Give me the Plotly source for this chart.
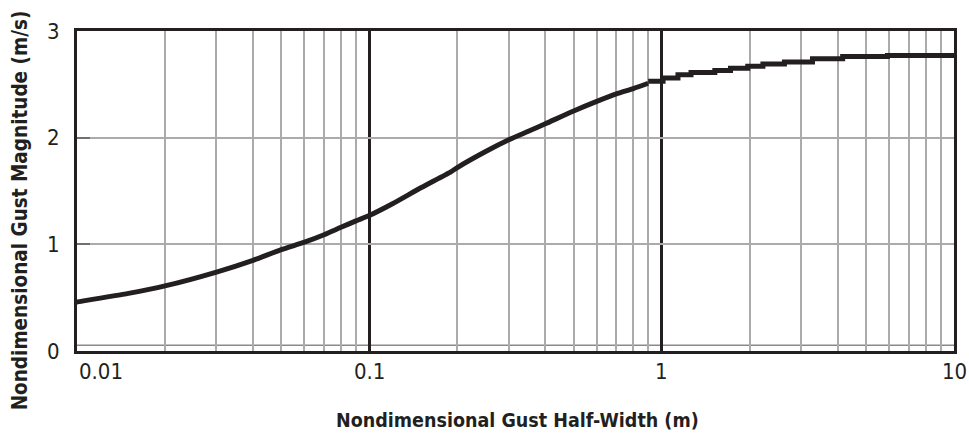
import numpy as np
import plotly.graph_objects as go

# Gust magnitude vs. half-width (log x-axis)
# smooth lower part of the curve
half_width = [0.0095, 0.01, 0.015, 0.02, 0.03, 0.04, 0.05, 0.06, 0.07, 0.08, 0.09,
              0.1, 0.12, 0.15, 0.19, 0.2, 0.25, 0.3, 0.35, 0.4, 0.5, 0.6, 0.7,
              0.8, 0.899]
magnitude = [0.45, 0.46, 0.54, 0.61, 0.74, 0.85, 0.95, 1.02, 1.09, 1.16, 1.22,
             1.27, 1.38, 1.53, 1.68, 1.72, 1.87, 1.98, 2.06, 2.13, 2.25, 2.34, 2.41,
             2.46, 2.51]
# quantized upper part, drawn as steps
step_width = [0.899, 1.011, 1.137, 1.26, 1.52, 1.72, 1.97, 2.22, 2.63,
              3.28, 4.16, 5.92, 10.0]
step_magnitude = [2.53, 2.56, 2.59, 2.61, 2.63, 2.65, 2.67, 2.69, 2.71,
                  2.74, 2.76, 2.77, 2.77]

x_ticks = [0.01, 0.1, 1, 10]
x_tick_text = ["0.01", "0.1", "1", "10"]
y_ticks = [0, 1, 2, 3]
minor_x = [m * d for d in [0.01, 0.1, 1] for m in range(2, 10)]

INK = "#231f20"
GRID = "#ababab"
FONT = "Liberation Sans Narrow, DejaVu Sans Condensed, Arial Narrow, sans-serif"
BASE_RULE = 0.055  # thin gray rule just above the lower frame

fig = go.Figure()
fig.add_trace(go.Scatter(
    x=half_width, y=magnitude, mode="lines",
    line=dict(color=INK, width=5, shape="spline", smoothing=0.6),
    hoverinfo="x+y", showlegend=False,
))
fig.add_trace(go.Scatter(
    x=step_width, y=step_magnitude, mode="lines",
    line=dict(color=INK, width=5, shape="hv"),
    hoverinfo="x+y", showlegend=False,
))

fig.update_layout(
    width=969, height=438,
    margin=dict(l=77, r=12, t=31, b=87),
    paper_bgcolor="white", plot_bgcolor="white",
    font=dict(family=FONT, color=INK, size=22),
    xaxis=dict(
        type="log", range=[np.log10(x_ticks[0]), np.log10(x_ticks[-1])],
        tickvals=x_ticks, showticklabels=False, ticks="",
        showgrid=True, gridcolor=INK, gridwidth=2.5,
        minor=dict(tickvals=minor_x, showgrid=True, gridcolor=GRID, gridwidth=1.5, ticks=""),
        showline=True, linecolor=INK, linewidth=3, mirror=True, zeroline=False,
    ),
    yaxis=dict(
        range=[y_ticks[0], y_ticks[-1]], tickvals=y_ticks,
        ticks="inside", ticklen=13, tickcolor="#707070", tickwidth=1.5,
        ticklabelstandoff=10,
        tickfont=dict(size=22, color=INK),
        showgrid=True, gridcolor=GRID, gridwidth=1.5,
        showline=True, linecolor=INK, linewidth=3, mirror=True, zeroline=False,
    ),
)

fig.add_shape(type="line", xref="paper", yref="y", x0=0, x1=1,
              y0=BASE_RULE, y1=BASE_RULE, line=dict(color="#8a8a8a", width=1.5),
              layer="below")

# x tick labels (first one sits to the right of the frame corner)
for i, (v, t) in enumerate(zip(x_ticks, x_tick_text)):
    fig.add_annotation(
        x=np.log10(v), xref="x", y=-0.065, yref="paper",
        text=t, showarrow=False, xanchor="left" if i == 0 else "center",
        yanchor="middle", font=dict(size=22, color=INK),
    )

fig.add_annotation(
    x=0.502, xref="paper", y=-0.216, yref="paper",
    text="<b>Nondimensional Gust Half-Width (m)</b>", showarrow=False,
    xanchor="center", yanchor="middle", font=dict(size=19.5, color=INK),
)
fig.add_annotation(
    x=-0.0648, xref="paper", y=0.44, yref="paper",
    text="<b>Nondimensional Gust Magnitude (m/s)</b>", showarrow=False,
    textangle=-90, xanchor="center", yanchor="middle", font=dict(size=20.5, color=INK),
)

fig.write_html("out.html")
